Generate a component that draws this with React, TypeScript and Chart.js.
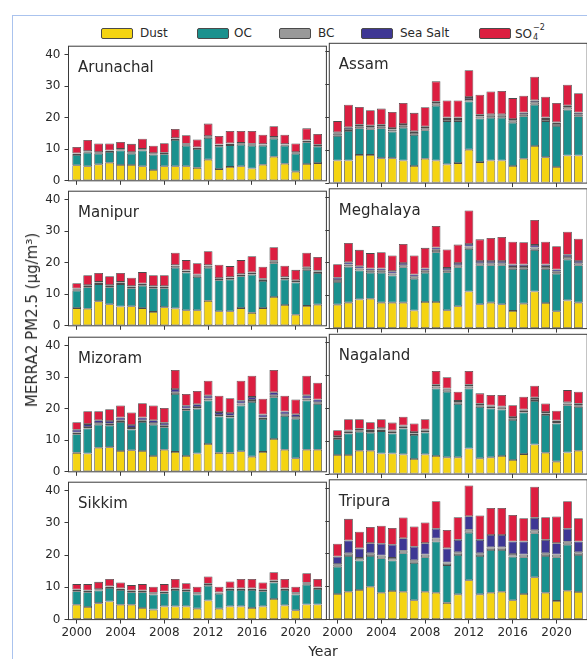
import React, { useEffect, useRef } from 'react';
import { Chart, registerables } from 'chart.js';

Chart.register(...registerables);

// ---------------- data ----------------
const YEARS = [2000, 2001, 2002, 2003, 2004, 2005, 2006, 2007, 2008, 2009, 2010, 2011, 2012, 2013, 2014, 2015, 2016, 2017, 2018, 2019, 2020, 2021, 2022];
const X_TICKS = [2000, 2004, 2008, 2012, 2016, 2020];
const Y_TICKS = [0, 10, 20, 30, 40];
const REGIONS = ['Arunachal', 'Assam', 'Manipur', 'Meghalaya', 'Mizoram', 'Nagaland', 'Sikkim', 'Tripura'];
const COMPONENTS = ['Dust', 'OC', 'BC', 'Sea Salt', 'SO4'];

// rows follow REGIONS order
const DUST = [
  [4.9, 4.6, 5.2, 5.7, 5.0, 5.0, 4.6, 3.4, 4.6, 4.6, 4.6, 4.1, 6.7, 3.7, 4.4, 4.6, 3.9, 5.1, 7.6, 5.4, 2.9, 5.3, 5.6],
  [6.9, 6.9, 8.6, 8.6, 7.6, 7.6, 6.9, 5.2, 7.4, 6.9, 5.7, 6.1, 10.2, 6.4, 6.9, 6.9, 5.2, 7.4, 11.3, 7.9, 4.9, 8.4, 8.4],
  [5.6, 5.4, 7.8, 6.8, 6.1, 6.2, 5.6, 4.4, 5.9, 5.5, 4.9, 4.9, 7.9, 4.6, 4.6, 5.6, 4.1, 5.6, 9.1, 6.6, 3.5, 6.3, 6.7],
  [7.3, 7.9, 8.9, 9.1, 7.9, 7.9, 7.9, 5.5, 8.1, 8.1, 5.6, 6.8, 11.3, 7.4, 7.9, 7.4, 5.4, 7.6, 11.3, 7.8, 5.3, 8.6, 7.9],
  [6.0, 5.8, 7.6, 7.8, 6.6, 6.8, 6.6, 5.0, 7.0, 6.3, 5.0, 5.8, 8.8, 6.0, 6.0, 6.5, 4.8, 6.3, 10.4, 7.0, 4.3, 7.0, 7.0],
  [5.8, 5.8, 7.1, 7.1, 6.3, 6.3, 6.0, 4.6, 6.0, 5.5, 5.1, 5.1, 7.8, 4.8, 5.1, 5.5, 4.3, 6.1, 9.0, 6.5, 3.8, 6.6, 7.1],
  [4.6, 3.9, 5.1, 5.6, 4.6, 4.6, 3.6, 3.1, 4.1, 4.1, 4.1, 3.4, 5.9, 3.4, 4.1, 4.1, 3.6, 4.1, 6.4, 4.4, 2.9, 4.7, 4.7],
  [7.8, 8.5, 9.0, 10.0, 8.2, 8.7, 8.5, 5.9, 8.5, 8.2, 5.1, 7.7, 12.0, 7.7, 8.2, 8.5, 5.9, 7.8, 12.9, 8.2, 5.7, 8.8, 8.4],
];
const OC = [
  [3.3, 4.3, 3.4, 3.4, 4.6, 3.6, 5.0, 4.9, 3.8, 8.3, 6.5, 6.0, 6.9, 7.2, 6.9, 6.8, 7.2, 6.0, 5.7, 5.7, 5.7, 6.9, 5.3],
  [7.5, 9.0, 8.1, 7.8, 9.1, 8.1, 10.0, 9.5, 8.7, 16.7, 13.2, 12.8, 14.7, 13.3, 13.0, 13.0, 13.2, 13.0, 12.6, 11.0, 12.5, 14.0, 12.0],
  [5.5, 6.8, 5.4, 5.4, 7.1, 5.7, 7.1, 7.5, 6.0, 12.9, 12.0, 10.6, 10.5, 9.8, 10.1, 10.1, 12.1, 8.6, 10.7, 8.1, 10.2, 11.4, 10.0],
  [6.9, 11.0, 8.8, 7.9, 9.1, 8.3, 10.8, 9.7, 8.9, 15.2, 11.6, 11.9, 13.0, 11.9, 11.4, 11.9, 12.8, 10.6, 12.7, 10.4, 11.4, 12.5, 11.4],
  [5.9, 7.9, 7.3, 6.9, 9.2, 6.6, 9.2, 9.9, 7.1, 18.3, 14.5, 14.2, 13.8, 11.5, 11.2, 14.5, 17.3, 10.4, 13.2, 10.7, 12.5, 15.6, 14.5],
  [4.9, 6.6, 5.8, 5.5, 6.8, 6.1, 7.9, 7.3, 6.7, 20.6, 20.0, 16.3, 18.3, 15.7, 14.9, 14.2, 12.2, 12.7, 13.3, 11.5, 11.6, 14.4, 13.4],
  [4.2, 4.6, 3.9, 4.2, 4.6, 3.9, 4.9, 4.7, 4.1, 5.1, 4.7, 4.4, 4.6, 4.6, 5.1, 5.1, 5.6, 4.7, 5.1, 4.8, 4.9, 6.1, 4.8],
  [8.3, 10.9, 9.0, 9.4, 10.5, 9.3, 11.7, 11.4, 10.5, 15.6, 11.5, 12.0, 14.5, 11.7, 13.0, 12.7, 13.3, 11.2, 13.4, 11.2, 13.3, 14.0, 11.3],
];
const BC = [
  [0.4, 0.4, 0.4, 0.4, 0.4, 0.4, 0.4, 0.4, 0.4, 0.5, 0.5, 0.4, 0.5, 0.5, 0.5, 0.5, 0.5, 0.4, 0.5, 0.4, 0.4, 0.5, 0.4],
  [0.6, 0.6, 0.6, 0.6, 0.6, 0.6, 0.6, 0.6, 0.6, 0.7, 0.6, 0.6, 0.7, 0.6, 0.6, 0.6, 0.6, 0.6, 0.7, 0.6, 0.6, 0.7, 0.6],
  [0.5, 0.5, 0.5, 0.5, 0.5, 0.5, 0.5, 0.5, 0.5, 0.6, 0.5, 0.5, 0.6, 0.5, 0.5, 0.5, 0.5, 0.5, 0.6, 0.5, 0.5, 0.6, 0.5],
  [0.6, 0.6, 0.6, 0.6, 0.6, 0.6, 0.6, 0.6, 0.6, 0.7, 0.6, 0.6, 0.7, 0.6, 0.6, 0.6, 0.6, 0.6, 0.7, 0.6, 0.6, 0.7, 0.6],
  [0.5, 0.5, 0.5, 0.5, 0.5, 0.5, 0.5, 0.5, 0.5, 0.6, 0.5, 0.5, 0.6, 0.5, 0.5, 0.6, 0.6, 0.5, 0.6, 0.5, 0.5, 0.6, 0.5],
  [0.5, 0.5, 0.5, 0.5, 0.5, 0.5, 0.5, 0.5, 0.5, 0.6, 0.6, 0.5, 0.6, 0.5, 0.5, 0.5, 0.5, 0.5, 0.6, 0.5, 0.5, 0.5, 0.5],
  [0.4, 0.4, 0.4, 0.4, 0.4, 0.4, 0.4, 0.4, 0.4, 0.4, 0.4, 0.4, 0.5, 0.4, 0.4, 0.4, 0.4, 0.4, 0.5, 0.4, 0.4, 0.5, 0.4],
  [0.8, 0.8, 0.8, 0.8, 0.8, 0.8, 0.8, 0.8, 0.8, 0.9, 0.8, 0.8, 0.9, 0.8, 0.8, 0.8, 0.8, 0.8, 0.9, 0.8, 0.8, 0.9, 0.8],
];
const SEA_SALT = [
  [0.1, 0.1, 0.1, 0.1, 0.1, 0.1, 0.1, 0.1, 0.1, 0.1, 0.1, 0.1, 0.1, 0.1, 0.1, 0.1, 0.1, 0.1, 0.1, 0.1, 0.1, 0.1, 0.1],
  [0.5, 0.5, 0.5, 0.5, 0.5, 0.5, 0.5, 0.5, 0.5, 0.5, 0.5, 0.5, 0.6, 0.5, 0.5, 0.5, 0.5, 0.5, 0.6, 0.5, 0.5, 0.5, 0.5],
  [0.2, 0.2, 0.2, 0.2, 0.2, 0.2, 0.2, 0.2, 0.2, 0.2, 0.2, 0.2, 0.2, 0.2, 0.2, 0.2, 0.2, 0.2, 0.2, 0.2, 0.2, 0.2, 0.2],
  [0.7, 0.7, 0.7, 0.7, 0.7, 0.7, 0.7, 0.7, 0.7, 0.7, 0.7, 0.7, 0.8, 0.7, 0.7, 0.7, 0.7, 0.7, 0.8, 0.7, 0.7, 0.7, 0.7],
  [0.9, 0.9, 0.9, 0.9, 0.9, 0.9, 0.9, 0.9, 0.9, 1.0, 0.9, 0.9, 0.9, 0.9, 0.9, 0.9, 1.0, 0.9, 1.0, 0.9, 0.9, 1.0, 0.9],
  [0.4, 0.4, 0.4, 0.4, 0.4, 0.4, 0.4, 0.4, 0.4, 0.5, 0.4, 0.4, 0.5, 0.4, 0.4, 0.4, 0.4, 0.4, 0.4, 0.4, 0.4, 0.4, 0.4],
  [0.1, 0.1, 0.1, 0.1, 0.1, 0.1, 0.1, 0.1, 0.1, 0.1, 0.1, 0.1, 0.1, 0.1, 0.1, 0.1, 0.1, 0.1, 0.1, 0.1, 0.1, 0.1, 0.1],
  [2.3, 3.9, 2.9, 3.1, 3.6, 4.0, 3.8, 4.1, 3.5, 3.0, 4.3, 3.8, 4.1, 4.1, 3.8, 3.8, 3.8, 4.0, 3.8, 4.1, 3.5, 4.0, 3.3],
];
const SO4 = [
  [2.0, 3.5, 2.7, 2.2, 2.2, 2.6, 3.2, 2.3, 3.0, 2.9, 2.7, 2.5, 3.9, 2.7, 3.9, 3.8, 4.1, 3.0, 3.4, 3.0, 2.7, 3.8, 3.4],
  [3.4, 6.9, 5.4, 4.7, 4.9, 4.9, 6.4, 5.6, 5.9, 6.2, 5.2, 5.2, 8.2, 6.1, 6.9, 7.1, 6.4, 5.1, 7.2, 6.3, 5.9, 6.4, 5.9],
  [1.7, 3.1, 2.8, 2.8, 2.8, 2.6, 3.6, 3.4, 3.4, 3.9, 3.2, 3.6, 4.4, 4.2, 3.5, 4.4, 5.1, 3.8, 4.3, 3.6, 3.3, 4.6, 4.4],
  [4.1, 5.9, 5.0, 4.7, 5.0, 4.8, 5.8, 5.8, 6.3, 6.6, 5.6, 5.6, 10.2, 6.6, 7.0, 7.3, 7.0, 6.8, 7.6, 7.0, 7.1, 7.0, 6.8],
  [2.4, 4.1, 2.9, 3.7, 3.8, 4.0, 4.5, 4.7, 4.7, 6.0, 3.7, 4.2, 4.7, 5.2, 4.7, 6.3, 6.7, 5.0, 7.0, 5.0, 4.7, 6.2, 5.3],
  [1.8, 3.4, 2.9, 2.3, 2.7, 2.4, 2.7, 2.6, 3.1, 4.2, 3.4, 2.8, 4.2, 3.2, 3.2, 3.5, 3.6, 3.9, 3.6, 2.6, 3.0, 3.7, 3.7],
  [1.7, 2.0, 2.2, 2.3, 1.8, 1.7, 2.0, 1.9, 2.3, 2.9, 2.0, 1.9, 2.3, 1.7, 2.1, 2.9, 2.9, 2.2, 2.6, 2.9, 1.9, 3.0, 2.6],
  [3.9, 6.6, 5.1, 4.9, 5.5, 5.1, 6.3, 6.2, 6.3, 8.4, 5.6, 6.9, 9.4, 7.4, 8.2, 8.2, 8.1, 7.1, 9.5, 6.9, 8.1, 8.4, 7.1],
];
const SERIES = [DUST, OC, BC, SEA_SALT, SO4];

// ---------------- style ----------------
const COLORS = ['#F4D412', '#1A918E', '#999999', '#3E3794', '#DC1E40'];
const EDGE = '#4a4a4a';
const AXIS = '#3a3a3a';
const TEXT = '#2a2a2a';
const FONT = '"DejaVu Sans", sans-serif';

const X_MIN = 1999.25;
const X_MAX = 2022.8;
const Y_MAX = 42.6;

const PLOT_W = 257.9;
const PLOT_H = 139.8;
const COL_X = [68.5, 329.3];
const ROW_Y = [43.3, 188.8, 334.3, 479.8];

const panelDecor = {
  id: 'panelDecor',
  afterDatasetsDraw(chart: any, _args: any, opts: any) {
    const { ctx, chartArea: a } = chart;
    ctx.save();
    ctx.strokeStyle = AXIS;
    ctx.lineWidth = 1;
    ctx.strokeRect(a.left, a.top, a.right - a.left, a.bottom - a.top);
    ctx.fillStyle = TEXT;
    ctx.font = '15px ' + FONT;
    ctx.textBaseline = 'alphabetic';
    ctx.textAlign = 'left';
    ctx.fillText(opts.title, a.left + 9.5, a.top + 26);
    ctx.restore();
  },
};

function Panel({ idx }: { idx: number }) {
  const ref = useRef<HTMLCanvasElement>(null);
  const col = idx % 2;
  const row = Math.floor(idx / 2);
  const plotL = COL_X[col];
  const plotT = ROW_Y[row];
  const left = Math.floor(plotL - 46);
  const yw = plotL - left;
  const top = Math.floor(plotT - 8);
  const padT = plotT - top;
  const cw = Math.ceil(yw + PLOT_W + 6);
  const padR = cw - yw - PLOT_W;
  const xhBase = row === 3 ? 34 : 8;
  const ch = Math.ceil(padT + PLOT_H + xhBase);
  const xh = ch - padT - PLOT_H;

  useEffect(() => {
    if (!ref.current) return;
    const chart = new Chart(ref.current, {
      type: 'bar',
      data: {
        labels: YEARS,
        datasets: COMPONENTS.map((name, k) => ({
          label: name,
          data: SERIES[k][idx],
          backgroundColor: COLORS[k],
          borderColor: EDGE,
          borderWidth: 0.8,
          borderSkipped: false,
          categoryPercentage: 1,
          barPercentage: 0.8,
        })),
      },
      options: {
        responsive: false,
        animation: false,
        events: [],
        layout: { padding: { left: 0, top: padT, right: padR, bottom: 0 } },
        plugins: {
          legend: { display: false },
          tooltip: { enabled: false },
          panelDecor: { title: REGIONS[idx] },
        } as any,
        scales: {
          x: {
            type: 'linear',
            stacked: true,
            min: X_MIN,
            max: X_MAX,
            offset: false,
            afterBuildTicks: (s: any) => {
              s.ticks = X_TICKS.map((v) => ({ value: v }));
            },
            afterFit: (s: any) => {
              s.height = xh;
            },
            grid: { display: true, drawOnChartArea: false, drawTicks: true, tickLength: 4, color: AXIS, offset: false },
            border: { display: false },
            ticks: {
              display: row === 3,
              callback: (v: any) => String(v),
              font: { family: FONT, size: 12 },
              color: TEXT,
              padding: 2,
              maxRotation: 0,
              autoSkip: false,
            },
          },
          y: {
            type: 'linear',
            stacked: true,
            min: 0,
            max: Y_MAX,
            afterBuildTicks: (s: any) => {
              s.ticks = Y_TICKS.map((v) => ({ value: v }));
            },
            afterFit: (s: any) => {
              s.width = yw;
            },
            grid: { display: true, drawOnChartArea: false, drawTicks: true, tickLength: 4, color: AXIS },
            border: { display: false },
            ticks: {
              display: col === 0,
              font: { family: FONT, size: 12 },
              color: TEXT,
              padding: 4,
            },
          },
        },
      } as any,
      plugins: [panelDecor],
    });
    return () => chart.destroy();
  }, []);

  return (
    <canvas
      ref={ref}
      width={cw}
      height={ch}
      style={{ position: 'absolute', left, top, width: cw, height: ch }}
    />
  );
}

const LEGEND_POS = [
  { sx: 101, tx: 140 },
  { sx: 197, tx: 234 },
  { sx: 279, tx: 318 },
  { sx: 361, tx: 400 },
  { sx: 479, tx: 515 },
];

function Legend() {
  return (
    <>
      {COMPONENTS.map((name, k) => (
        <React.Fragment key={name}>
          <div
            style={{
              position: 'absolute',
              left: LEGEND_POS[k].sx,
              top: 28,
              width: 30,
              height: 9,
              background: COLORS[k],
              border: '1px solid ' + EDGE,
              borderRadius: 2,
            }}
          />
          <div
            style={{
              position: 'absolute',
              left: LEGEND_POS[k].tx,
              top: 26,
              font: '12px ' + FONT,
              lineHeight: '14px',
              color: TEXT,
              whiteSpace: 'nowrap',
            }}
          >
            {name === 'SO4' ? (
              <span>
                SO
                <span style={{ display: 'inline-block', position: 'relative', width: 13, height: 12 }}>
                  <span style={{ position: 'absolute', left: 1, top: -5, fontSize: 8 }}>−2</span>
                  <span style={{ position: 'absolute', left: 1, top: 5, fontSize: 8 }}>4</span>
                </span>
              </span>
            ) : (
              name
            )}
          </div>
        </React.Fragment>
      ))}
    </>
  );
}

export default function App() {
  return (
    <div
      style={{
        position: 'fixed',
        left: 0,
        top: 0,
        width: 587,
        height: 659,
        overflow: 'hidden',
        background: '#ffffff',
        fontFamily: FONT,
      }}
    >
      <div
        style={{
          position: 'absolute',
          left: 12,
          top: 15,
          width: 700,
          height: 700,
          borderLeft: '1px solid #aac3ee',
          borderTop: '1px solid #aac3ee',
        }}
      />
      <Legend />
      {REGIONS.map((r, i) => (
        <Panel key={r} idx={i} />
      ))}
      <div
        style={{
          position: 'absolute',
          left: 32,
          top: 320,
          transform: 'translate(-50%, -50%) rotate(-90deg)',
          font: '15px ' + FONT,
          color: TEXT,
          whiteSpace: 'nowrap',
        }}
      >
        MERRA2 PM2.5 (µg/m³)
      </div>
      <div
        style={{
          position: 'absolute',
          left: 323,
          top: 651,
          transform: 'translate(-50%, -50%)',
          font: '14px ' + FONT,
          color: TEXT,
          whiteSpace: 'nowrap',
        }}
      >
        Year
      </div>
    </div>
  );
}
